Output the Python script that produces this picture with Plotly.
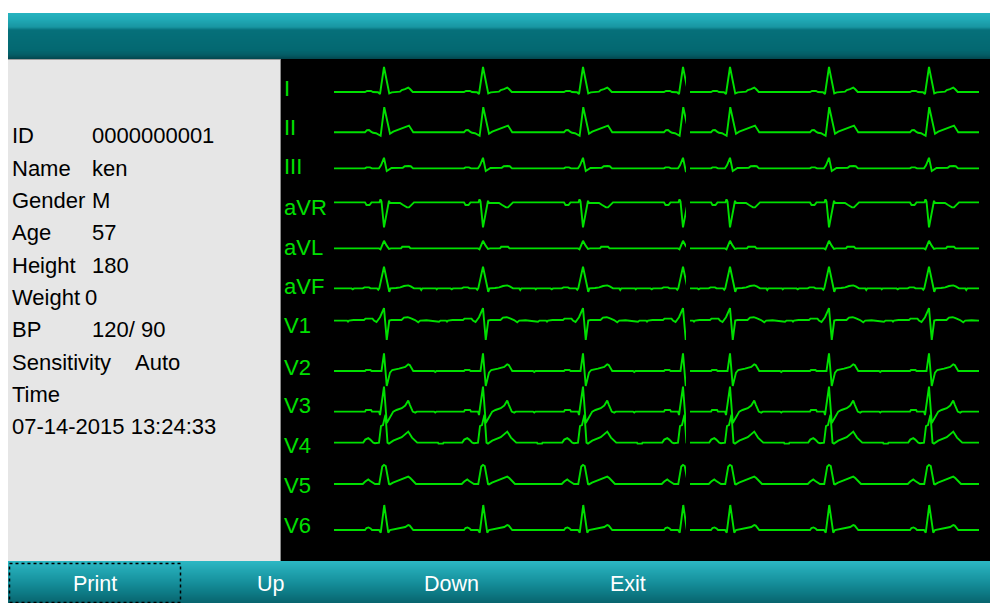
import plotly.graph_objects as go

# ---------------- data ----------------
LEADS = ["I", "II", "III", "aVR", "aVL", "aVF", "V1", "V2", "V3", "V4", "V5", "V6"]

# R-peak times (ms) of the two screen segments
BEATS_SEG1_MS = [400, 1192, 1992, 2792]
BEATS_SEG2_MS = [3168, 3960, 4760]
SEG1_START_MS = 0
SEG2_START_MS = 2848
SEG2_END_MS = 5160

# per-lead baseline offset on the display (mV)
LEAD_OFFSET_MV = [-1.65, -3.66, -5.47, -7.17, -9.47, -11.47,
                  -13.08, -15.6, -17.63, -19.18, -21.25, -23.55]

# beat shape per lead: (ms relative to R peak, mV)
BEAT_I = [(-176, 0), (-152, 0), (-136, 0.05), (-104, 0.05), (-88, 0), (-48, -0.01), (-32, -0.1),
          (0, 1.25), (42, -0.07), (62, -0.02), (128, 0.02), (142, 0.1), (168, 0.14),
          (194, 0.22), (208, 0.15), (230, 0), (280, 0)]
BEAT_II = [(-176, 0), (-152, 0), (-136, 0.1), (-120, 0.11), (-104, 0.03), (-88, -0.03), (-64, -0.05),
           (-27, -0.18), (2, 1.25), (48, -0.08), (74, 0.03), (150, 0.2), (200, 0.33),
           (234, 0), (280, 0)]
BEAT_III = [(-176, 0), (-152, 0), (-140, 0.05), (-112, 0.05), (-96, 0), (-40, 0), (-24, 0.15),
            (0, 0.53), (22, -0.13), (46, -0.02), (60, 0.02), (150, 0.03), (166, 0.11),
            (196, 0.12), (214, 0.11), (232, 0), (280, 0)]
BEAT_AVR = [(-176, 0), (-152, 0), (-140, -0.13), (-116, -0.13), (-100, 0), (-36, 0), (-28, 0.15),
            (-20, 0.05), (0, -1.25), (40, 0.08), (48, -0.02), (128, -0.03), (150, -0.12),
            (184, -0.25), (200, -0.25), (240, 0), (280, 0)]
BEAT_AVL = [(-176, 0), (-40, 0), (-28, -0.05), (0, 0.38), (20, 0.15), (40, -0.03), (56, 0),
            (136, 0), (146, 0.08), (200, 0.08), (212, 0), (280, 0)]
BEAT_AVF = [(-260, 0), (-250, -0.05), (-240, 0), (-170, 0), (-156, 0.05), (-120, 0.05), (-108, 0),
            (-56, 0), (-46, -0.07), (-38, 0), (0, 1.08), (42, -0.17), (52, 0), (96, 0.02),
            (130, 0.05), (160, 0.12), (194, 0.15), (214, 0.1), (240, 0), (290, 0),
            (298, -0.08), (306, 0), (416, 0), (422, -0.05), (430, 0), (470, 0)]
BEAT_V1 = [(-296, 0), (-288, -0.05), (-280, 0), (-244, 0.03), (-160, 0.03), (-148, 0.1),
           (-92, 0.1), (-80, 0), (-60, -0.07), (-32, 0.17), (0, 0.62), (22, -0.97), (42, 0),
           (60, 0.03), (140, 0.03), (160, 0.15), (190, 0.17), (212, 0.12), (248, 0.03),
           (274, -0.08), (290, 0), (340, 0.02), (440, -0.06), (452, 0), (470, 0)]
BEAT_V2 = [(-176, 0), (-152, 0), (-144, 0.05), (-108, 0.05), (-100, 0), (-20, 0), (0, 0.88),
           (22, -0.75), (48, -0.08), (66, 0.05), (120, 0.12), (170, 0.2), (194, 0.33),
           (206, 0.3), (234, 0), (400, 0), (410, -0.05), (420, 0), (470, 0)]
BEAT_V3 = [(-176, 0), (-152, 0), (-144, 0.08), (-104, 0.08), (-96, 0), (-40, 0), (-32, -0.17),
           (0, 1.25), (22, -0.57), (48, -0.25), (74, 0), (100, 0.08), (142, 0.17), (170, 0.3),
           (194, 0.55), (206, 0.35), (230, 0), (250, -0.05), (262, 0), (400, 0),
           (410, -0.05), (420, 0), (470, 0)]
BEAT_V4 = [(-176, 0), (-166, 0), (-150, 0.15), (-126, 0.22), (-110, 0.15), (-86, 0), (-72, -0.03),
           (-40, 0), (-24, 0.83), (-8, 0.88), (12, 1.4), (28, 0), (40, -0.05), (74, 0.1),
           (142, 0.27), (194, 0.55), (224, 0.25), (266, 0), (432, 0), (436, -0.05),
           (472, -0.05), (476, 0)]
BEAT_V5 = [(-176, 0), (-170, 0), (-150, 0.12), (-126, 0.23), (-110, 0.15), (-72, 0), (-38, 0),
           (-14, 0.87), (0, 0.95), (14, 0.9), (40, 0), (48, -0.02), (72, 0.07), (128, 0.2),
           (176, 0.33), (194, 0.37), (210, 0.3), (256, 0), (280, 0)]
BEAT_V6 = [(-176, 0), (-152, 0), (-140, 0.1), (-124, 0.13), (-108, 0.08), (-96, 0), (-40, 0),
           (-26, -0.13), (2, 1.25), (34, -0.13), (48, 0), (114, 0.08), (170, 0.15),
           (194, 0.25), (206, 0.22), (234, 0), (280, 0)]
BEATS = [BEAT_I, BEAT_II, BEAT_III, BEAT_AVR, BEAT_AVL, BEAT_AVF,
         BEAT_V1, BEAT_V2, BEAT_V3, BEAT_V4, BEAT_V5, BEAT_V6]

PATIENT_FIELDS = ["ID", "Name", "Gender", "Age", "Height", "Weight", "BP", "Sensitivity", "Time"]
PATIENT_VALUES = ["0000000001", "ken", "M", "57", "180", "0", "120/ 90", "Auto", ""]
TIMESTAMP = "07-14-2015 13:24:33"
BUTTONS = ["Print", "Up", "Down", "Exit"]

# ---------------- layout helpers ----------------
W, H = 990, 603
def px(x):
    return x / W
def py(y):
    return 1 - y / H

GREEN = "#00e000"

def build(beat, r_times, start, end=None):
    xs, ys = [start], [0.0]
    for r in r_times:
        for t, v in beat:
            xs.append(r + t)
            ys.append(v)
    if end is not None:
        pairs = [(x, y) for x, y in zip(xs, ys) if x <= end]
        pairs.append((end, 0.0))
        xs = [p[0] for p in pairs]
        ys = [p[1] for p in pairs]
    return xs, ys

fig = go.Figure()
for lead, beat, off in zip(LEADS, BEATS, LEAD_OFFSET_MV):
    x1, y1 = build(beat, BEATS_SEG1_MS, SEG1_START_MS)
    fig.add_trace(go.Scatter(x=x1, y=[v + off for v in y1], mode="lines", xaxis="x", yaxis="y",
                             line=dict(color=GREEN, width=1.9), hoverinfo="skip", name=lead))
    x2, y2 = build(beat, BEATS_SEG2_MS, SEG2_START_MS, SEG2_END_MS)
    fig.add_trace(go.Scatter(x=x2, y=[v + off for v in y2], mode="lines", xaxis="x2", yaxis="y",
                             line=dict(color=GREEN, width=1.9), hoverinfo="skip", name=lead))

shapes = []
def rect(x0, y0, x1, y1, color):
    shapes.append(dict(type="rect", xref="paper", yref="paper", x0=px(x0), x1=px(x1),
                       y0=py(y1), y1=py(y0), fillcolor=color, line=dict(width=0), layer="below"))

def gradient(y_top, y_bot, stops, x0=8, x1=990):
    for y in range(y_top, y_bot):
        yc = y + 0.5
        for (ya, ca), (yb, cb) in zip(stops[:-1], stops[1:]):
            if ya <= yc <= yb:
                f = (yc - ya) / (yb - ya)
                c = tuple(int(round(a + (b - a) * f)) for a, b in zip(ca, cb))
                break
        else:
            c = stops[-1][1]
        rect(x0, y, x1, y + 1, "rgb(%d,%d,%d)" % c)

TOP_STOPS = [(13, (38, 180, 192)), (20, (32, 168, 180)), (27, (24, 150, 162)), (30, (6, 112, 122)),
             (50, (3, 104, 113)), (55, (4, 92, 101)), (59, (3, 70, 78))]
BOT_STOPS = [(561, (44, 184, 196)), (568, (36, 170, 182)), (580, (24, 148, 160)),
             (592, (14, 124, 135)), (603, (8, 100, 110))]

gradient(13, 59, TOP_STOPS)
rect(8, 59, 280, 561, "#e6e6e6")
rect(8, 59, 280, 60, "#a0a0a0")
rect(280, 59, 990, 561, "#000000")
rect(280, 59, 281, 561, "#8a8a8a")
gradient(561, 603, BOT_STOPS)
shapes.append(dict(type="rect", xref="paper", yref="paper", x0=px(9.5), x1=px(180.5),
                   y0=py(602.5), y1=py(563.5), line=dict(color="black", width=1.5, dash="dot"),
                   fillcolor="rgba(0,0,0,0)", layer="above"))

annotations = []
def text(x, y, s, size, color, family, anchor="left"):
    annotations.append(dict(x=px(x), y=py(y), xref="paper", yref="paper", text=s, showarrow=False,
                            xanchor=anchor, yanchor="middle",
                            font=dict(size=size, color=color, family=family)))

LEFT_FONT = "Liberation Sans"
VALUE_X = [90, 90, 90, 90, 90, 83, 90, 133, 90]
for i, (f, v) in enumerate(zip(PATIENT_FIELDS, PATIENT_VALUES)):
    y = 136 + 32.3 * i
    text(10, y, f, 22, "black", LEFT_FONT)
    if v:
        text(VALUE_X[i], y, v, 22, "black", LEFT_FONT)
text(10, 136 + 32.3 * 9, TIMESTAMP, 22, "black", LEFT_FONT)

LABEL_Y = [88, 127, 167, 207, 247, 287, 325, 367, 405, 445, 485, 525]
for lead, y in zip(LEADS, LABEL_Y):
    text(282, y, lead, 22, GREEN, LEFT_FONT)

BUTTON_X = [95, 271, 451, 628]
for b, x in zip(BUTTONS, BUTTON_X):
    text(x, 584, b, 21.5, "white", "Liberation Sans", anchor="center")

fig.update_layout(
    width=W, height=H, margin=dict(l=0, r=0, t=0, b=0),
    paper_bgcolor="white", plot_bgcolor="rgba(0,0,0,0)", showlegend=False,
    shapes=shapes, annotations=annotations,
    xaxis=dict(domain=[px(280), px(686)], range=[-432, 2816], visible=False, fixedrange=True),
    xaxis2=dict(domain=[px(690), 1.0], range=[2848, 5248], visible=False, fixedrange=True, anchor="y"),
    yaxis=dict(domain=[py(561), py(59)], range=[-25.1, 0], visible=False, fixedrange=True),
)

fig.write_html("out.html", config={"displayModeBar": False},
               post_script="document.body.style.margin='0';document.body.style.overflow='hidden';")
